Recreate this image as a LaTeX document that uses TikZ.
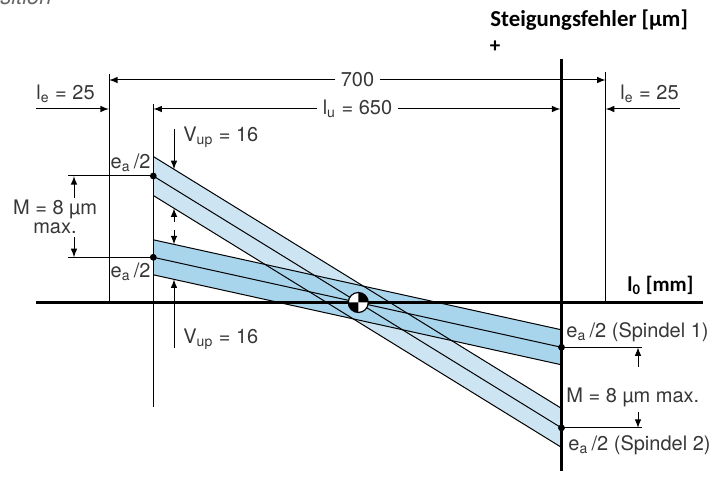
\documentclass[tikz,border=0pt]{standalone}
\usepackage{fontspec}
\setmainfont{TeX Gyre Heros}
\newfontfamily\axisfont{Carlito}
\usetikzlibrary{calc}
\usetikzlibrary{arrows.meta}

\definecolor{bandlight}{RGB}{205,228,243}
\definecolor{banddark}{RGB}{168,212,236}
\definecolor{txtgray}{RGB}{55,55,55}

\tikzset{
    axisline/.style={line width=1.5pt},
    thinline/.style={line width=0.5pt},
    dimline/.style={line width=0.5pt, -latex},
    lbl/.style={inner sep=0pt, text=txtgray, font=\fontsize{10}{12}\selectfont},
    dimlbl/.style={inner sep=2.5pt, text=txtgray, font=\fontsize{10}{12}\selectfont},
    axislbl/.style={inner sep=0pt, font=\axisfont\bfseries\fontsize{10.5}{12}\selectfont},
}

\begin{document}
\begin{tikzpicture}[x=0.5pt, y=-0.5pt]
    \useasboundingbox (0,0) rectangle (719,481);
    \clip (0,0) rectangle (719,481);

    \node[lbl, font=\itshape\fontsize{11}{13}\selectfont, text=black!60, anchor=base east] (title) at (52,4.5) {sition};

    \coordinate (C) at (358.3,302.5);
    \coordinate (L2) at (153.3,176);
    \coordinate (R2) at (561.5,427.9);
    \coordinate (L1) at (153.3,257.3);
    \coordinate (R1) at (561.5,347.3);

    % bands
    \fill[bandlight] ($(L2)+(0,-19.5)$) -- ($(R2)+(0,-19.5)$) -- ($(R2)+(0,19.5)$) -- ($(L2)+(0,19.5)$) -- cycle;
    \fill[banddark] ($(L1)+(0,-17.5)$) -- ($(R1)+(0,-17.5)$) -- ($(R1)+(0,17.5)$) -- ($(L1)+(0,17.5)$) -- cycle;
    \foreach \d in {-19.5,0,19.5}
        \draw[thinline] ($(L2)+(0,\d)$) -- ($(R2)+(0,\d)$);
    \foreach \d in {-17.5,0,17.5}
        \draw[thinline] ($(L1)+(0,\d)$) -- ($(R1)+(0,\d)$);

    % axes
    \draw[axisline] (36,302.5) -- (703,302.5);
    \draw[axisline] (561.5,59) -- (561.5,471);
    \node[axislbl, anchor=base west] (xlabel) at (627,291.5) {l\textsubscript{0} [mm]};
    \node[axislbl, font=\axisfont\bfseries\fontsize{11.4}{13}\selectfont, anchor=base west] (ylabel) at (490,27) {Steigungsfehler [µm]};
    \node[axislbl] (plus) at (495,47) {+};

    \draw[thinline] (109,74) -- (109,302.5);
    \draw[thinline] (605.7,72) -- (605.7,302.5);
    \draw[thinline] (153.3,104) -- (153.3,407);

    % lengths
    \node[dimlbl] (total) at (357.5,80) {700};
    \draw[dimline] (total.west) -- (109,80);
    \draw[dimline] (total.east) -- (605.7,80);
    \node[dimlbl] (usable) at (357.5,109) {l\textsubscript{u} = 650};
    \draw[dimline] (usable.west) -- (153.3,109);
    \draw[dimline] (usable.east) -- (560.5,109);
    \node[lbl, anchor=base west] (endl) at (36,100) {l\textsubscript{e} = 25};
    \draw[dimline] (36,109) -- (109,109);
    \node[lbl, anchor=base west] (endr) at (620,100) {l\textsubscript{e} = 25};
    \draw[dimline] (680,109) -- (605.7,109);

    % band widths
    \draw[dimline] (174,129) -- (174,169.3);
    \draw[dimline] (174,222) -- (174,208.3);
    \draw[dimline] (174,230) -- (174,244.4);
    \draw[dimline] (174,348) -- (174,279.4);
    \node[lbl, anchor=west] (vup1) at (183,137) {V\textsubscript{up} = 16};
    \node[lbl, anchor=west] (vup2) at (183,339) {V\textsubscript{up} = 16};

    % M left
    \draw[thinline] (68,176) -- (L2);
    \draw[thinline] (68,257.3) -- (L1);
    \draw[dimline] (74,198) -- (74,176);
    \draw[dimline] (74,237) -- (74,257.3);
    \node[lbl, align=center, font=\fontsize{10}{9.5}\selectfont] (mleft) at (55,217) {M = 8 µm\\max.};

    % M right
    \draw[thinline] (R1) -- (642,347.3);
    \draw[thinline] (R2) -- (642,427.9);
    \draw[dimline] (638,367) -- (638,347.3);
    \draw[dimline] (638,412) -- (638,427.9);
    \node[lbl, anchor=west] (mright) at (566,397) {M = 8 µm max.};

    \node[lbl, anchor=east] (ealeft2) at (151,163) {e\textsubscript{a}\,/2};
    \node[lbl, anchor=east] (ealeft1) at (151,272) {e\textsubscript{a}\,/2};
    \node[lbl, anchor=west] (earight1) at (566,332) {e\textsubscript{a}\,/2 (Spindel 1)};
    \node[lbl, anchor=west] (earight2) at (568,445) {e\textsubscript{a}\,/2 (Spindel 2)};

    \foreach \p in {L1,L2,R1,R2}
        \fill (\p) circle (1.7pt);

    % zero point
    \fill[white] (C) circle (5pt);
    \fill (C) -- ++(5pt,0) arc[start angle=0, end angle=90, radius=5pt] -- cycle;
    \fill (C) -- ++(-5pt,0) arc[start angle=180, end angle=270, radius=5pt] -- cycle;
    \draw[line width=0.6pt] (C) circle (5pt);
\end{tikzpicture}
\end{document}
